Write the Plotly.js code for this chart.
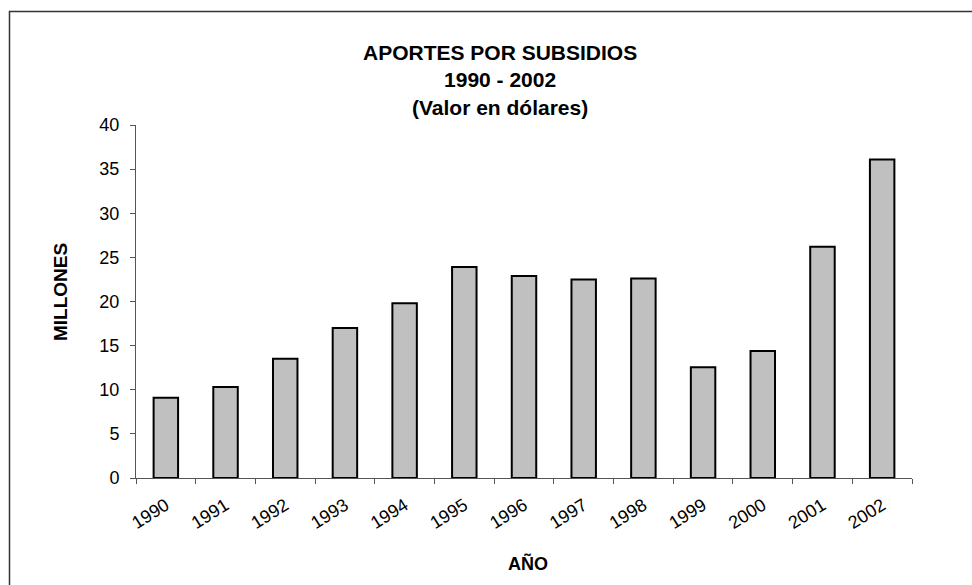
<!DOCTYPE html>
<html>
<head>
<meta charset="utf-8">
<script src="https://cdn.plot.ly/plotly-3.0.1.min.js"></script>
<style>
  html, body { margin: 0; padding: 0; background: #fff; }
  #chart { width: 972px; height: 585px; }
</style>
</head>
<body>
<div id="chart"></div>
<script>
const years = ["1990","1991","1992","1993","1994","1995","1996","1997","1998","1999","2000","2001","2002"];
const millones = [9.1, 10.3, 13.5, 17.0, 19.8, 23.9, 22.9, 22.5, 22.6, 12.55, 14.4, 26.2, 36.1];
const yTicks = [0, 5, 10, 15, 20, 25, 30, 35, 40];
const titleLines = ["APORTES POR SUBSIDIOS", "1990 - 2002", "(Valor en dólares)"];
const xTitle = "AÑO";
const yTitle = "MILLONES";

const L = 136, R = 912, T = 125, B = 478;
const W = R - L, H = B - T;
const px = p => (p - L) / W;
const py = p => (B - p) / H;
const FONT = 'Liberation Sans, Arial, sans-serif';

const trace = {
  type: 'bar',
  x: years,
  y: millones,
  marker: { color: '#c0c0c0', line: { color: '#000000', width: 2 } },
  hoverinfo: 'x+y'
};

const annotations = [{
  text: '<b>' + titleLines.join('<br>') + '</b>',
  xref: 'paper', yref: 'paper',
  x: px(500), y: py(80),
  xanchor: 'center', yanchor: 'middle', align: 'center',
  showarrow: false,
  font: { family: FONT, size: 21, color: '#000' }
}, {
  text: '<b>' + xTitle + '</b>', xref: 'paper', yref: 'paper',
  x: px(528), y: py(563), xanchor: 'center', yanchor: 'middle',
  showarrow: false, font: { family: FONT, size: 18, color: '#000' }
}, {
  text: '<b>' + yTitle + '</b>', xref: 'paper', yref: 'paper',
  x: px(60), y: py(292), xanchor: 'center', yanchor: 'middle',
  textangle: -90,
  showarrow: false, font: { family: FONT, size: 19, color: '#000' }
}];

const layout = {
  width: 972,
  height: 585,
  margin: { l: L, r: 972 - R, t: T, b: 585 - B },
  paper_bgcolor: '#ffffff',
  plot_bgcolor: '#ffffff',
  showlegend: false,
  bargap: 0.59,
  font: { family: FONT, color: '#000000', size: 18 },
  xaxis: {
    type: 'category',
    tickson: 'boundaries',
    ticks: 'outside',
    ticklen: 5,
    tickcolor: '#555',
    showline: true,
    linecolor: '#555',
    linewidth: 1,
    showgrid: false,
    tickangle: -32,
    ticklabelstandoff: 9,
    tickfont: { family: FONT, size: 18 },
    fixedrange: true
  },
  yaxis: {
    range: [0, 40],
    tickvals: yTicks,
    ticks: 'outside',
    ticklen: 5,
    tickcolor: '#555',
    showline: true,
    linecolor: '#555',
    linewidth: 1,
    showgrid: false,
    zeroline: false,
    ticklabelstandoff: 7,
    tickfont: { family: FONT, size: 18 },
    fixedrange: true
  },
  annotations: annotations,
  shapes: [{
    type: 'rect', xref: 'paper', yref: 'paper',
    x0: px(9.5), x1: px(990), y0: py(600), y1: py(11.5),
    line: { color: '#333', width: 1.5 }, fillcolor: 'rgba(0,0,0,0)', layer: 'below'
  }]
};

Plotly.newPlot('chart', [trace], layout, { displayModeBar: false, staticPlot: true });
</script>
</body>
</html>
